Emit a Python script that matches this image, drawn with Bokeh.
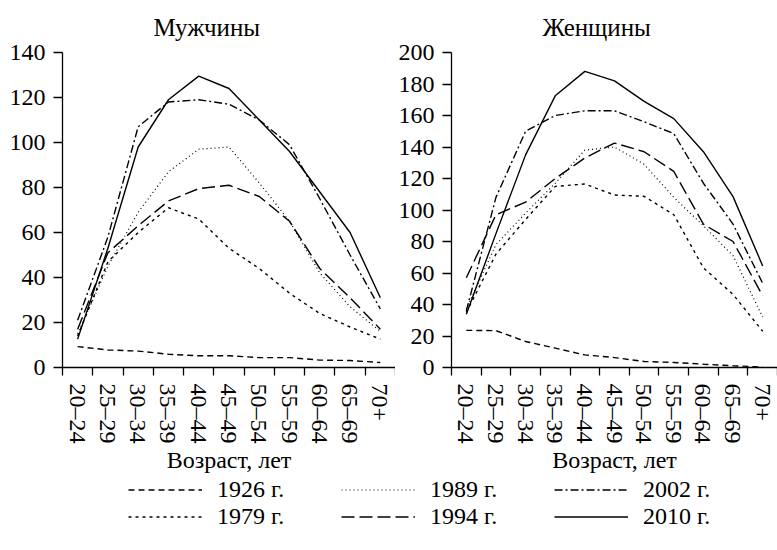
from bokeh.plotting import figure
from bokeh.models import (Range1d, LinearAxis, FixedTicker, Title, Legend, LegendItem)
from bokeh.layouts import column, row
from bokeh.embed import file_html
from bokeh.resources import INLINE

# ---------------- data ----------------
age_groups = ["20–24", "25–29", "30–34", "35–39", "40–44", "45–49",
              "50–54", "55–59", "60–64", "65–69", "70+"]
years = ["1926 г.", "1979 г.", "1989 г.", "1994 г.", "2002 г.", "2010 г."]

men_1926 = [9.3, 7.8, 7.3, 5.9, 5.2, 5.2, 4.4, 4.4, 3.3, 3.1, 2.2]
men_1979 = [14, 47, 60, 71, 66, 53, 44, 33, 24, 18, 12.6]
men_1989 = [15, 45, 69, 87, 97, 98, 82, 65, 42, 27, 16]
men_1994 = [17, 51, 63, 74, 79.5, 81, 76, 65, 44, 31, 17]
men_2002 = [21, 58, 107, 118, 119, 117, 110, 99, 75, 50, 26]
men_2010 = [12.6, 53, 98, 119, 129.5, 124, 110, 96, 78, 60, 31]

women_1926 = [23.6, 23.4, 16.5, 12.3, 8, 6.3, 3.8, 3.2, 2.1, 1.1, 0.3]
women_1979 = [35, 72, 94, 115, 116.5, 109.5, 108.7, 97, 63.3, 46.4, 23]
women_1989 = [37, 78, 98, 117, 138, 140, 129, 108, 90, 71, 32]
women_1994 = [57, 97, 105, 120, 133, 142.5, 137, 124.5, 91, 80, 45.5]
women_2002 = [36, 108, 150, 160, 163, 163, 156, 148.5, 117, 91, 53.5]
women_2010 = [33.8, 85, 135, 172.5, 188, 182, 169, 158, 137, 108.5, 64.5]

men_series = [men_1926, men_1979, men_1989, men_1994, men_2002, men_2010]
women_series = [women_1926, women_1979, women_1989, women_1994, women_2002, women_2010]

men_yticks = [0, 20, 40, 60, 80, 100, 120, 140]
women_yticks = [0, 20, 40, 60, 80, 100, 120, 140, 160, 180, 200]

# ---------------- styles ----------------
FONT = "Liberation Serif"
dashes = ["6 4", "3 4", "1 3", "13 5", "8 3 2 3", "solid"]
widths = [1.4, 1.4, 1.2, 1.4, 1.4, 1.4]

xs = list(range(1, len(age_groups) + 1))


def make_chart(title, series, yticks, width, border_left, x_end):
    p = figure(width=width, height=475, output_backend="svg", toolbar_location=None,
               x_range=Range1d(0.5, x_end), y_range=Range1d(yticks[0], yticks[-1]),
               x_axis_type=None, y_axis_type=None,
               min_border_left=border_left, min_border_right=0,
               min_border_top=52, min_border_bottom=107)
    p.outline_line_color = None
    p.background_fill_color = "white"
    p.border_fill_color = "white"

    t = Title(text=title, align="left", offset=91, vertical_align="top", standoff=20,
              text_font=FONT, text_font_size="25px", text_font_style="normal",
              text_color="black")
    p.add_layout(t, "above")

    xaxis = LinearAxis(ticker=FixedTicker(ticks=xs,
                                          minor_ticks=[x - 0.5 for x in xs] + [xs[-1] + 0.5]))
    xaxis.major_label_overrides = {x: lab for x, lab in zip(xs, age_groups)}
    xaxis.major_label_orientation = "vertical"
    xaxis.major_tick_line_color = None
    xaxis.major_tick_out = 0
    xaxis.major_tick_in = 0
    xaxis.minor_tick_out = 8
    xaxis.minor_tick_in = 0
    xaxis.minor_tick_line_color = "black"
    xaxis.minor_tick_line_width = 1.3
    xaxis.major_label_standoff = 8
    xaxis.major_label_text_font = FONT
    xaxis.major_label_text_font_size = "24px"
    xaxis.major_label_text_color = "black"
    xaxis.axis_label = "Возраст, лет"
    xaxis.axis_label_text_font = FONT
    xaxis.axis_label_text_font_size = "24px"
    xaxis.axis_label_text_font_style = "normal"
    xaxis.axis_label_text_color = "black"
    xaxis.axis_label_text_line_height = 1.0
    xaxis.axis_label_standoff = 0
    xaxis.axis_line_color = "black"
    xaxis.axis_line_width = 1.3
    p.add_layout(xaxis, "below")

    yaxis = LinearAxis(ticker=FixedTicker(ticks=yticks, minor_ticks=[]))
    yaxis.major_tick_out = 9
    yaxis.major_tick_in = 0
    yaxis.major_tick_line_color = "black"
    yaxis.major_tick_line_width = 1.3
    yaxis.minor_tick_line_color = None
    yaxis.major_label_standoff = 8
    yaxis.major_label_text_font = FONT
    yaxis.major_label_text_font_size = "24px"
    yaxis.major_label_text_color = "black"
    yaxis.axis_line_color = "black"
    yaxis.axis_line_width = 1.3
    p.add_layout(yaxis, "left")

    for vals, dash, w in zip(series, dashes, widths):
        p.line(xs, vals, line_color="black", line_width=w, line_dash=dash)
    return p


p1 = make_chart("Мужчины", men_series, men_yticks, 395, 62, 11.5)
p2 = make_chart("Женщины", women_series, women_yticks, 382, 47, 11.5)

# ---------------- legend ----------------
# legend swatches: the men's series drawn outside this strip's visible range
p3 = figure(width=777, height=75, output_backend="svg", toolbar_location=None,
            x_range=Range1d(100, 101), y_range=Range1d(1000, 1001),
            x_axis_type=None, y_axis_type=None,
            min_border=0)
p3.outline_line_color = None
items = []
for lab, vals, dash, w in zip(years, men_series, dashes, widths):
    r = p3.line(xs, vals, line_color="black", line_width=w, line_dash=dash)
    items.append(LegendItem(label=lab, renderers=[r]))
legend = Legend(items=items, orientation="vertical", nrows=2, ncols=3,
                location=(128, 20), padding=0, margin=0, spacing=0,
                glyph_width=74, glyph_height=27, label_height=27, label_width=124,
                label_standoff=15, border_line_color=None, background_fill_alpha=0,
                label_text_font=FONT, label_text_font_size="24px", label_text_color="black")
p3.add_layout(legend, "center")

layout = column(row(p1, p2), p3)
open("out.html", "w").write(file_html(layout, INLINE))
